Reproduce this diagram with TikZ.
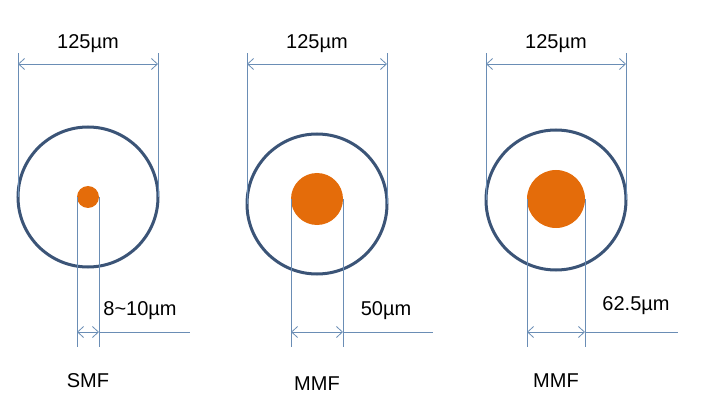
\documentclass[tikz,border=0pt]{standalone}
\usepackage{fontspec}
\setmainfont{Liberation Sans}
\usetikzlibrary{arrows.meta}
\definecolor{cladblue}{HTML}{3B5477}
\definecolor{dimblue}{HTML}{6A8DB5}
\definecolor{coreorange}{HTML}{E46C0A}
\tikzset{>={Straight Barb[length=6pt,width=11pt]}}

\begin{document}
\begin{tikzpicture}[x=1pt,y=-1pt,
    clad/.style={circle,draw=cladblue,line width=3pt,minimum size=140pt,
      inner sep=0pt,outer sep=0pt},
    core/.style={circle,fill=coreorange,inner sep=0pt,outer sep=0pt},
    dimline/.style={draw=dimblue,line width=0.8pt},
    lbl/.style={font=\fontsize{20}{24}\selectfont,inner sep=0pt}]
  \useasboundingbox (0,0) rectangle (702,409);
  % one fibre cross-section per entry
  \foreach \n/\cx/\cy/\ky/\d/\ax/\lx/\ly/\txt/\typ/\ty in
    {1/88/197/197/22/190/140/311/8\textasciitilde10µm/SMF/381,
     2/317/204/199/52/433/386/311/50µm/MMF/384,
     3/556/200/199/58/678/636/306/62.5µm/MMF/381}
  {
    \node[clad] (clad\n) at (\cx,\cy) {};
    \node[core,minimum size=\d pt] (core\n) at (\cx,\ky) {};
    \coordinate (top\n) at (\cx,53);
    \coordinate (tarr\n) at (\cx,64);
    \coordinate (bot\n) at (\cx,347);
    \coordinate (barr\n) at (\cx,332);
    \coordinate (end\n) at (\ax,332);
    % outer diameter
    \draw[dimline] (clad\n.west) -- (clad\n.west |- top\n);
    \draw[dimline] (clad\n.east) -- (clad\n.east |- top\n);
    \draw[dimline,<->] (clad\n.west |- tarr\n) -- (clad\n.east |- tarr\n);
    \node[lbl] (od\n) at (\cx,44) {125µm};
    % core diameter
    \draw[dimline] (core\n.west) -- (core\n.west |- bot\n);
    \draw[dimline] (core\n.east) -- (core\n.east |- bot\n);
    \draw[dimline,<->] (core\n.west |- barr\n) -- (core\n.east |- barr\n);
    \draw[dimline] (core\n.east |- barr\n) -- (end\n);
    \node[lbl] (cd\n) at (\lx,\ly) {\txt};
    \node[lbl] (type\n) at (\cx,\ty) {\typ};
  }
\end{tikzpicture}
\end{document}
